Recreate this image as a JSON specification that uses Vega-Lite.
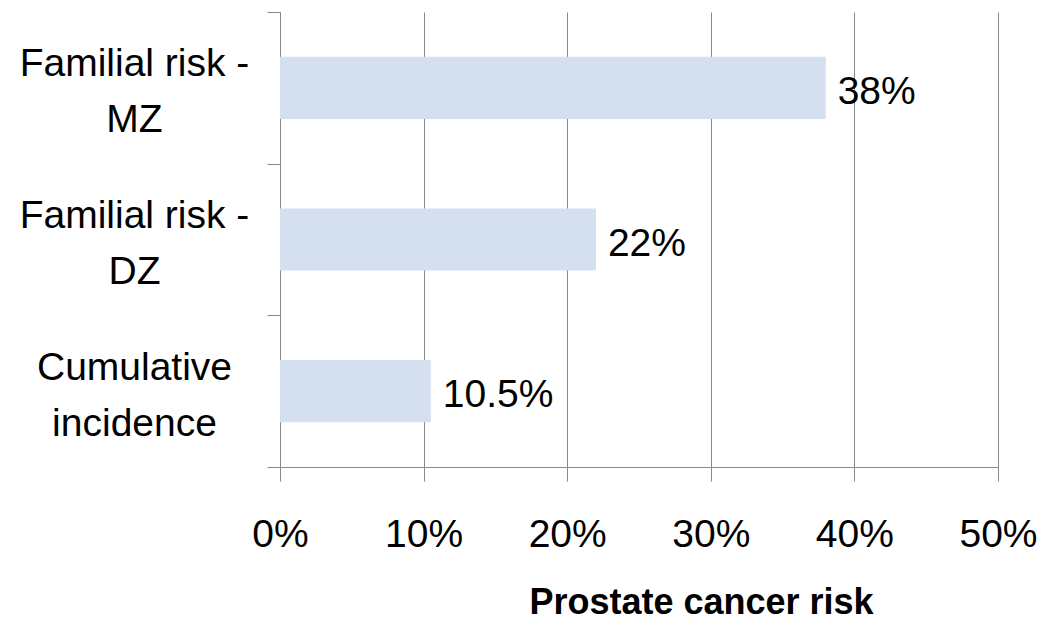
{
  "$schema": "https://vega.github.io/schema/vega-lite/v6.json",
  "width": 718,
  "height": 455,
  "autosize": {"type": "none"},
  "padding": {"left": 280, "top": 12, "right": 42, "bottom": 153},
  "background": "white",
  "config": {"view": {"stroke": null}, "font": "Liberation Sans, Arial, sans-serif"},
  "data": {
    "values": [
      {"category": "Familial risk -|MZ", "risk": 0.38, "label": "38%"},
      {"category": "Familial risk -|DZ", "risk": 0.22, "label": "22%"},
      {"category": "Cumulative|incidence", "risk": 0.105, "label": "10.5%"}
    ]
  },
  "encoding": {
    "y": {
      "field": "category",
      "type": "nominal",
      "sort": null,
      "scale": {"paddingInner": 0, "paddingOuter": 0},
      "axis": {
        "title": null,
        "grid": false,
        "domainColor": "#888888",
        "tickColor": "#888888",
        "tickSize": 13,
        "tickBand": "extent",
        "labelAlign": "center",
        "labelPadding": 133,
        "labelFontSize": 39,
        "labelLineHeight": 56,
        "labelBaseline": "middle",
        "labelOffset": -24,
        "labelColor": "#000000",
        "labelLimit": 0,
        "labelExpr": "split(datum.label, '|')"
      }
    }
  },
  "layer": [
    {
      "mark": {"type": "bar", "color": "#D4DFEF", "height": {"band": 0.41}},
      "encoding": {
        "x": {
          "field": "risk",
          "type": "quantitative",
          "scale": {"domain": [0, 0.5], "nice": false},
          "axis": {
            "values": [0, 0.1, 0.2, 0.3, 0.4, 0.5],
            "format": ".0%",
            "grid": true,
            "gridColor": "#888888",
            "domainColor": "#888888",
            "tickColor": "#888888",
            "tickSize": 14,
            "labelFontSize": 39,
            "labelColor": "#000000",
            "labelPadding": 65,
            "labelBaseline": "alphabetic",
            "labelFlush": false,
            "labelOverlap": false,
            "title": "Prostate cancer risk",
            "titleFontSize": 36,
            "titleFontWeight": "bold",
            "titleColor": "#000000",
            "titleX": 421,
            "titleY": 146,
            "titleAlign": "center",
            "titleBaseline": "alphabetic"
          }
        }
      }
    },
    {
      "mark": {"type": "text", "align": "left", "dx": 12, "dy": 4, "fontSize": 39, "baseline": "middle", "color": "#000000"},
      "encoding": {
        "x": {"field": "risk", "type": "quantitative"},
        "text": {"field": "label"}
      }
    }
  ]
}
